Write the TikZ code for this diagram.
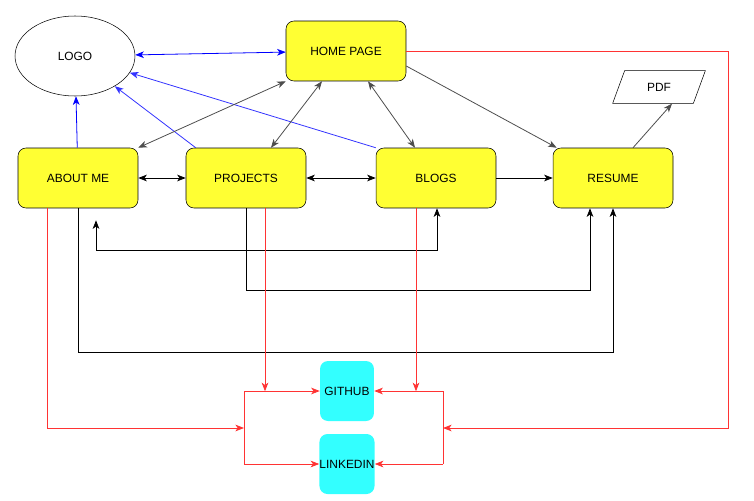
\documentclass[tikz,border=0pt]{standalone}
\usepackage{fontspec}
\setmainfont{Liberation Sans}
\usetikzlibrary{arrows,arrows.meta,shapes,calc}
\definecolor{pageyellow}{RGB}{255,255,51}
\definecolor{socialcyan}{RGB}{51,255,255}
\definecolor{linkred}{RGB}{255,51,51}
\definecolor{logoblue}{RGB}{0,0,255}
\definecolor{lightblue}{RGB}{51,51,255}
\definecolor{navgray}{RGB}{77,77,77}
\tikzstyle{page}=[rectangle,rounded corners=6pt,fill=pageyellow,draw,minimum width=3.18cm,minimum height=1.59cm,inner sep=0pt]
\tikzstyle{social}=[rectangle,rounded corners=6pt,fill=socialcyan,minimum height=1.59cm,inner sep=0pt]
\tikzstyle{logo}=[ellipse,draw,minimum width=3.18cm,minimum height=2.12cm,inner sep=0pt]
\tikzstyle{file}=[trapezium,trapezium left angle=63,trapezium right angle=117,trapezium stretches=true,draw,minimum width=2.46cm,minimum height=0.87cm,inner sep=0pt]
\tikzstyle{link} = [draw,semithick,-{Stealth[length=6.5pt,width=5pt,inset=1.8pt]}]
\tikzstyle{bilink} = [draw,semithick,{Stealth[length=6.5pt,width=5pt,inset=1.8pt]}-{Stealth[length=6.5pt,width=5pt,inset=1.8pt]}]
\tikzstyle{bar} = [draw,semithick]

\begin{document}
\begin{tikzpicture}[x=0.0265cm,y=-0.0265cm,font=\fontsize{9}{11}\selectfont]
    \useasboundingbox (0,0) rectangle (754,500);
    % First the pages of the site
    \foreach \pos/\name/\txt in {{(346,51)/home/HOME PAGE},{(78,178)/about/ABOUT ME},{(246,178)/projects/PROJECTS},{(436,178)/blogs/BLOGS},{(613,178)/resume/RESUME}}
        \node[page] (\name) at \pos {\txt};
    \node[logo] (logo) at (75,56) {LOGO};
    \node[file] (pdf) at (659,87) {PDF};
    \node[social,minimum width=1.43cm] (github) at (347,391) {GITHUB};
    \node[social,minimum width=1.33cm] (linkedin) at (347,464) {LINKEDIN};

    % corners of the two red bars
    \coordinate (lefttop) at (244,391);
    \coordinate (leftmid) at (244,428);
    \coordinate (leftbot) at (244,464);
    \coordinate (righttop) at (443,391);
    \coordinate (rightmid) at (443,428);
    \coordinate (rightbot) at (443,464);

    % Blue edges to the logo
    \path[bilink,logoblue] (logo) -- (home);
    \path[link,logoblue] (about) -- (logo);
    \path[link,lightblue] ($(projects.north west)+(10,0)$) -- (logo);
    \path[link,lightblue] (blogs.north west) -- (logo);

    % Edges from the home page
    \path[bilink,navgray] (home.south west) -- (about.north east);
    \path[bilink,navgray] ($(home.south)+(-24,0)$) -- ($(projects.north)+(25,0)$);
    \path[bilink,navgray] ($(home.south)+(22,0)$) -- ($(blogs.north)+(-21,0)$);
    \path[link,navgray] ($(home.east)+(0,15)$) -- ($(resume.north west)+(4,0)$);
    \path[link,navgray] ($(resume.north)+(20,0)$) -- ($(pdf.south)+(13,0)$);

    % Between the pages
    \foreach \source/\dest in {about/projects,projects/blogs}
        \path[bilink] (\source) -- (\dest);
    \path[link] (blogs) -- (resume);
    \path[bilink] ($(about.south)+(18,12)$) -- ++(0,30) -| ($(blogs.south)+(1,0)$);
    \path[link] (projects.south) -- ++(0,82) -| ($(resume.south)+(-23,0)$);
    \path[link] (about.south) -- ++(0,144) -| (resume.south);

    % Red edges to the social links
    \path[bar,linkred] (lefttop) -- (leftbot);
    \path[bar,linkred] (righttop) -- (rightbot);
    \foreach \source/\dest in {lefttop/github,leftbot/linkedin,righttop/github,rightbot/linkedin}
        \path[link,linkred] (\source) -- (\dest);
    \path[link,linkred] ($(projects.south)+(19,0)$) -- ++(0,183);
    \path[link,linkred] ($(blogs.south)+(-20,0)$) -- ++(0,183);
    \path[link,linkred] ($(about.south)+(-31,0)$) |- (leftmid);
    \path[link,linkred] (home.east) -| ($(rightmid)+(285,0)$) -- (rightmid);
\end{tikzpicture}
\end{document}
